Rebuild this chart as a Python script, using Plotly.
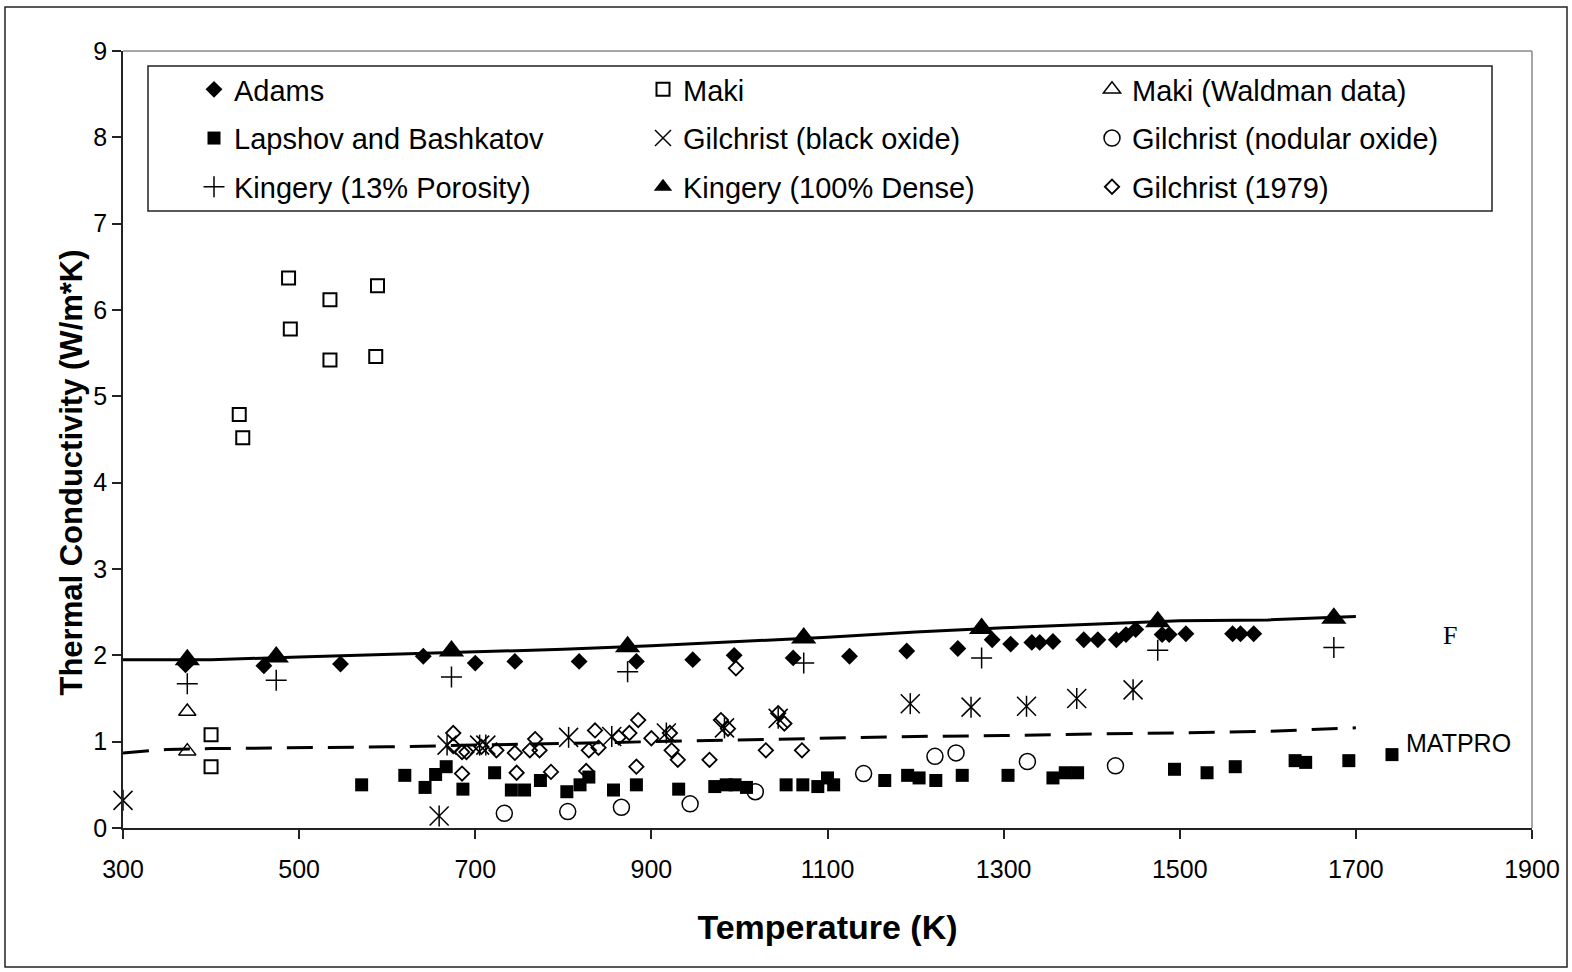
import plotly.graph_objects as go

# ---------------- data ----------------
adams_T = [371, 460, 547, 641, 700, 745, 818, 883, 947, 994, 1061, 1125, 1190, 1248,
           1287, 1308, 1332, 1341, 1356, 1391, 1407, 1428, 1439, 1450, 1480, 1488,
           1507, 1560, 1569, 1584]
adams_k = [1.89, 1.88, 1.90, 1.99, 1.91, 1.93, 1.93, 1.93, 1.95, 2.00, 1.97, 1.99, 2.05, 2.08,
           2.18, 2.13, 2.15, 2.15, 2.16, 2.18, 2.18, 2.18, 2.24, 2.30, 2.24, 2.24,
           2.25, 2.25, 2.25, 2.25]

maki_T = [400, 400, 432, 436, 488, 490, 535, 535, 587, 589]
maki_k = [1.08, 0.71, 4.79, 4.52, 6.37, 5.78, 6.12, 5.42, 5.46, 6.28]

waldman_T = [373, 373]
waldman_k = [1.35, 0.89]

lapshov_T = [571, 620, 643, 655, 667, 686, 722, 741, 756, 774, 804, 819, 829, 857, 883, 931,
             972, 985, 995, 1008, 1053, 1072, 1089, 1100, 1107, 1165, 1191, 1204, 1223, 1253,
             1305, 1356, 1370, 1384, 1494, 1531, 1563, 1631, 1643, 1692, 1741]
lapshov_k = [0.50, 0.61, 0.47, 0.62, 0.71, 0.45, 0.64, 0.44, 0.44, 0.55, 0.42, 0.50, 0.59, 0.44,
             0.50, 0.45, 0.48, 0.50, 0.50, 0.47, 0.50, 0.50, 0.48, 0.58, 0.50, 0.55, 0.61, 0.58,
             0.55, 0.61, 0.61, 0.58, 0.64, 0.64, 0.68, 0.64, 0.71, 0.78, 0.76, 0.78, 0.85]

gil_black_T = [300, 659, 668, 705, 712, 806, 855, 917, 983, 1044, 1194, 1263, 1326, 1383, 1447]
gil_black_k = [0.32, 0.14, 0.96, 0.96, 0.96, 1.05, 1.06, 1.10, 1.16, 1.27, 1.44, 1.40, 1.41,
               1.50, 1.60]

gil_nod_T = [733, 805, 866, 944, 1018, 1141, 1222, 1246, 1327, 1427]
gil_nod_k = [0.17, 0.19, 0.24, 0.28, 0.42, 0.63, 0.83, 0.87, 0.77, 0.72]

king13_T = [373, 474, 673, 873, 1073, 1275, 1475, 1675]
king13_k = [1.67, 1.71, 1.75, 1.81, 1.91, 1.97, 2.06, 2.09]

king100_T = [373, 474, 673, 873, 1073, 1275, 1475, 1675]
king100_k = [1.95, 1.98, 2.05, 2.10, 2.20, 2.31, 2.39, 2.43]

gil79_T = [675, 675, 685, 690, 685, 707, 724, 745, 747, 762, 768, 773, 786, 826, 829, 836,
           840, 863, 875, 885, 883, 900, 921, 923, 930, 966, 979, 987, 996, 1030, 1044,
           1051, 1071]
gil79_k = [1.10, 0.95, 0.88, 0.88, 0.63, 0.94, 0.90, 0.87, 0.64, 0.90, 1.03, 0.90, 0.65, 0.66,
           0.90, 1.13, 0.93, 1.05, 1.10, 1.25, 0.71, 1.04, 1.10, 0.90, 0.79, 0.79, 1.25, 1.15,
           1.85, 0.90, 1.33, 1.21, 0.90]

F_T = [300, 400, 500, 600, 700, 800, 900, 1000, 1100, 1200, 1300, 1400, 1500, 1600, 1700]
F_k = [1.95, 1.95, 1.98, 2.01, 2.04, 2.07, 2.11, 2.16, 2.21, 2.27, 2.32, 2.36, 2.40, 2.41, 2.45]

matpro_T = [300, 350, 400, 500, 600, 700, 800, 900, 1000, 1100, 1200, 1300, 1400, 1500, 1600, 1700]
matpro_k = [0.87, 0.91, 0.92, 0.93, 0.94, 0.96, 0.98, 1.00, 1.02, 1.04, 1.06, 1.07, 1.09, 1.10,
            1.12, 1.16]

x_ticks = [300, 500, 700, 900, 1100, 1300, 1500, 1700, 1900]
y_ticks = [0, 1, 2, 3, 4, 5, 6, 7, 8, 9]

FONT = "Arial, Liberation Sans, sans-serif"

fig = go.Figure()

# reference curves
fig.add_trace(go.Scatter(x=F_T, y=F_k, mode="lines", showlegend=False,
                         line=dict(color="black", width=3), hoverinfo="skip"))
fig.add_trace(go.Scatter(x=matpro_T, y=matpro_k, mode="lines", showlegend=False,
                         line=dict(color="black", width=3, dash="26px,15px"), hoverinfo="skip"))


def add(name, x, y, symbol, size, lw, legend, group, clip=True):
    fig.add_trace(go.Scatter(
        x=x, y=y, mode="markers", name=name, legend=legend, legendgroup=group,
        cliponaxis=clip,
        marker=dict(symbol=symbol, size=size, color="black",
                    line=dict(color="black", width=lw))))


add("Adams", adams_T, adams_k, "diamond", 13, 0, "legend", "g1")
add("Lapshov and Bashkatov", lapshov_T, lapshov_k, "square", 13, 0, "legend", "g2")
add("Kingery (13% Porosity)", king13_T, king13_k, "cross-thin-open", 15, 1.5, "legend", "g3")

add("Maki", maki_T, maki_k, "square-open", 13, 2, "legend2", "g4")
add("Gilchrist (black oxide)", gil_black_T, gil_black_k, "x-thin-open", 19, 1.5, "legend2", "g5",
    clip=False)
fig.add_trace(go.Scatter(x=gil_black_T, y=gil_black_k, mode="markers", showlegend=False,
                         legendgroup="g5", cliponaxis=False,
                         marker=dict(symbol="line-ns-open", size=15, color="black",
                                     line=dict(color="black", width=1.5))))
add("Kingery (100% Dense)", king100_T, king100_k, "triangle-up", 22, 0, "legend2", "g6")

add("Maki (Waldman data)", waldman_T, waldman_k, "triangle-up-open", 15, 1.5, "legend3", "g7")
add("Gilchrist (nodular oxide)", gil_nod_T, gil_nod_k, "circle-open", 16, 1.5, "legend3", "g8")
add("Gilchrist (1979)", gil79_T, gil79_k, "diamond-open", 11, 1.8, "legend3", "g9")

# --------------- layout ---------------
L, R, T, B = 123, 40, 51, 144
W, H = 1572, 972
PW, PH = W - L - R, H - T - B


def px_x(p):
    return (p - L) / PW


def px_y(p):
    return 1 - (p - T) / PH


leg_common = dict(orientation="v", bgcolor="rgba(0,0,0,0)", borderwidth=0,
                  font=dict(family=FONT, size=29, color="black"),
                  itemsizing="trace", traceorder="grouped", tracegroupgap=8,
                  xanchor="left", yanchor="top", xref="paper", yref="paper")

fig.update_layout(
    width=W, height=H,
    margin=dict(l=L, r=R, t=T, b=B, autoexpand=False),
    paper_bgcolor="white", plot_bgcolor="white",
    font=dict(family=FONT, color="black"),
    legend=dict(x=px_x(194), y=px_y(64), **leg_common),
    legend2=dict(x=px_x(643), y=px_y(64), **leg_common),
    legend3=dict(x=px_x(1092), y=px_y(64), **leg_common),
    xaxis=dict(range=[300, 1900], tickvals=x_ticks, ticktext=[str(v) for v in x_ticks],
               showgrid=False, zeroline=False, showline=True, linecolor="#222", linewidth=1.5,
               ticks="outside", ticklen=9, tickcolor="#222", tickwidth=1.5,
               tickfont=dict(size=25, family=FONT, color="black"),
               ticklabelstandoff=9,
               title=dict(text="<b>Temperature (K)</b>", standoff=33,
                          font=dict(size=34, family=FONT, color="black"))),
    yaxis=dict(range=[0, 9], tickvals=y_ticks, ticktext=[str(v) for v in y_ticks],
               showgrid=False, zeroline=False, showline=True, linecolor="#222", linewidth=1.5,
               ticks="outside", ticklen=9, tickcolor="#222", tickwidth=1.5,
               tickfont=dict(size=25, family=FONT, color="black")),
    shapes=[
        # outer figure frame
        dict(type="rect", xref="paper", yref="paper", x0=px_x(5), x1=px_x(1567),
             y0=px_y(967), y1=px_y(7), line=dict(color="#222", width=1.5)),
        # top / right edges of plot area
        dict(type="line", xref="paper", yref="paper", x0=0, x1=1, y0=1, y1=1,
             line=dict(color="#888", width=1.5)),
        dict(type="line", xref="paper", yref="paper", x0=1, x1=1, y0=0, y1=1,
             line=dict(color="#888", width=1.5)),
        # legend box
        dict(type="rect", xref="paper", yref="paper", x0=px_x(148), x1=px_x(1492),
             y0=px_y(211), y1=px_y(66), line=dict(color="#222", width=1.5)),
    ],
    annotations=[
        dict(x=px_x(51), y=px_y(473), xref="paper", yref="paper",
             text="<b>Thermal Conductivity (W/m*K)</b>", textangle=-90, showarrow=False,
             font=dict(size=31, family=FONT, color="black")),
        dict(x=1807, y=2.23, xref="x", yref="y", text="F", showarrow=False,
             font=dict(family="Liberation Serif, Times New Roman, serif", size=26, color="black")),
        dict(x=1816, y=0.985, xref="x", yref="y", text="MATPRO", showarrow=False,
             font=dict(family=FONT, size=25, color="black")),
    ],
)

fig.write_html("out.html", config={"displayModeBar": False},
               post_script="document.body.style.margin='0';document.body.style.overflow='hidden';")
